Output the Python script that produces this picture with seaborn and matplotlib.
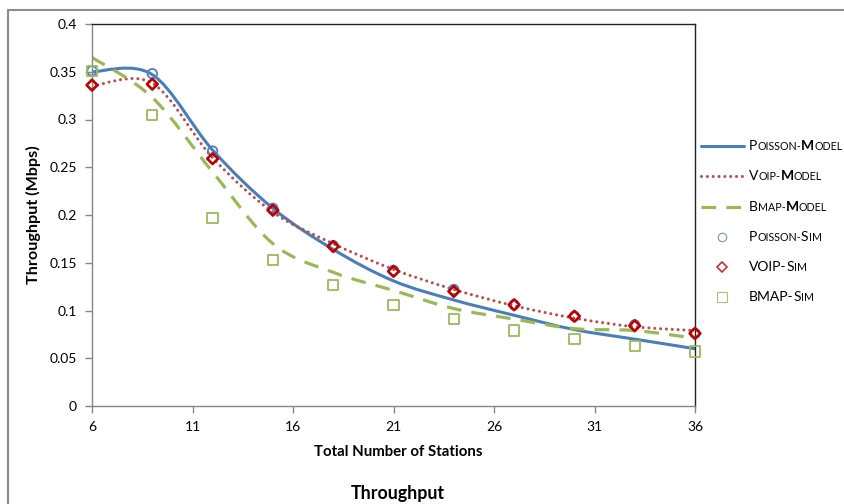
import numpy as np
import matplotlib
matplotlib.use("Agg")
import matplotlib.pyplot as plt
import seaborn as sns
from matplotlib.path import Path
from matplotlib.patches import PathPatch
from matplotlib.lines import Line2D
from matplotlib.offsetbox import TextArea, HPacker, AnnotationBbox

# ---- data -------------------------------------------------------------
stations = [6, 9, 12, 15, 18, 21, 24, 27, 30, 33, 36]

poisson_model = [0.350, 0.347, 0.268, 0.207, 0.164, 0.131, 0.111, 0.095, 0.080, 0.070, 0.060]
voip_model    = [0.335, 0.338, 0.260, 0.203, 0.170, 0.143, 0.122, 0.105, 0.092, 0.083, 0.079]
bmap_model    = [0.365, 0.323, 0.245, 0.170, 0.140, 0.121, 0.102, 0.091, 0.081, 0.079, 0.071]

poisson_sim = [0.351, 0.348, 0.267, 0.207, 0.168, 0.142, 0.122, 0.106, 0.094, 0.085, 0.076]
voip_sim    = [0.336, 0.337, 0.259, 0.205, 0.167, 0.141, 0.120, 0.106, 0.094, 0.084, 0.076]
bmap_sim    = [0.351, 0.305, 0.197, 0.153, 0.127, 0.106, 0.091, 0.079, 0.070, 0.063, 0.057]

x_ticks = [6, 11, 16, 21, 26, 31, 36]
y_ticks = [0, 0.05, 0.1, 0.15, 0.2, 0.25, 0.3, 0.35, 0.4]

BLUE = "#4A7EBB"
RED = "#BE4B48"
GREEN = "#98B954"
RED_MK = "#C00000"
BLUE_MK = "#4F81BD"
GREEN_MK = "#9BBB59"

# ---- style ------------------------------------------------------------
sns.set_theme(style="white")
plt.rcParams["font.family"] = ["Lato", "DejaVu Sans"]

W, H = 844, 504
fig = plt.figure(figsize=(W / 100, H / 100), dpi=100)
fig.patch.set_facecolor("white")

x0, x1, y0, y1 = 92, 695, 24, 406
ax = fig.add_axes([x0 / W, 1 - y1 / H, (x1 - x0) / W, (y1 - y0) / H])
ax.set_facecolor("white")


def smooth_path(xs, ys):
    """Cubic Bezier through the points, spreadsheet-style smoothing."""
    pts = np.column_stack([xs, ys]).astype(float)
    n = len(pts)
    verts = [pts[0]]
    codes = [Path.MOVETO]
    for i in range(n - 1):
        p0 = pts[max(i - 1, 0)]
        p1 = pts[i]
        p2 = pts[i + 1]
        p3 = pts[min(i + 2, n - 1)]
        c1 = p1 + (p2 - p0) / 6.0
        c2 = p2 - (p3 - p1) / 6.0
        verts += [c1, c2, p2]
        codes += [Path.CURVE4] * 3
    return Path(verts, codes)


model_styles = [
    (poisson_model, dict(edgecolor=BLUE, linewidth=2.2, linestyle="-", capstyle="round")),
    (voip_model, dict(edgecolor=RED, linewidth=2.2, linestyle=(0, (0.01, 1.9)), capstyle="round")),
    (bmap_model, dict(edgecolor=GREEN, linewidth=2.3, linestyle=(0, (4.6, 3.2)), capstyle="butt")),
]
for vals, st in model_styles:
    ax.add_patch(PathPatch(smooth_path(stations, vals), fill=False, zorder=2, **st))

# simulation points
sim_styles = [
    (poisson_sim, "o", BLUE_MK, 46, 1.3),
    (voip_sim, "D", RED_MK, 30, 1.9),
    (bmap_sim, "s", GREEN_MK, 55, 1.3),
]
for vals, mk, col, size, lw in sim_styles:
    sns.scatterplot(x=stations, y=vals, marker=mk, s=size, facecolor="none",
                    edgecolor=col, linewidth=lw, ax=ax, zorder=3, clip_on=False)

ax.set_xlim(6, 36)
ax.set_ylim(0, 0.4)
ax.set_xticks(x_ticks)
ax.set_yticks(y_ticks)
ax.set_xticklabels([str(v) for v in x_ticks])
ax.set_yticklabels([f"{v:g}" for v in y_ticks])
ax.tick_params(axis="both", which="major", length=5, width=1, color="#868686",
               labelsize=10, labelcolor="#000000", pad=6, direction="out")
ax.tick_params(axis="x", bottom=True)
ax.tick_params(axis="y", left=True)
ax.set_xlabel("")
ax.set_ylabel("")
ax.grid(False)
for side in ("left", "bottom"):
    ax.spines[side].set_color("#868686")
    ax.spines[side].set_linewidth(1.0)
for side in ("top", "right"):
    ax.spines[side].set_color("#222222")
    ax.spines[side].set_linewidth(1.0)

# axis titles and chart title
fig.text(398 / W, 1 - 452 / H, "Total Number of Stations", ha="center", va="center",
         fontsize=10.8, fontweight="bold", color="black")
fig.text(33 / W, 1 - 215 / H, "Throughput (Mbps)", ha="center", va="center",
         rotation=90, fontsize=11.6, fontweight="bold", color="black")
fig.text(398 / W, 1 - 494 / H, "Throughput", ha="center", va="center",
         fontsize=12.8, fontweight="bold", color="black")

# outer chart frame
fig.add_artist(Line2D([8 / W, 1.0], [1 - 10 / H, 1 - 10 / H], transform=fig.transFigure,
                      color="#8C8C8C", linewidth=1.5))
fig.add_artist(Line2D([8 / W, 8 / W], [0.0, 1 - 10 / H], transform=fig.transFigure,
                      color="#8C8C8C", linewidth=1.5))

# legend with small-caps labels
BIG, SMALL = 10.0, 7.7
legend_rows = [
    ("line", model_styles[0][1], [("P", BIG, "normal"), ("OISSON-", SMALL, "normal"), ("M", BIG, "bold"), ("ODEL", SMALL, "normal")]),
    ("line", model_styles[1][1], [("V", BIG, "normal"), ("OIP-", SMALL, "normal"), ("M", BIG, "bold"), ("ODEL", SMALL, "normal")]),
    ("line", model_styles[2][1], [("B", BIG, "normal"), ("MAP-", SMALL, "normal"), ("M", BIG, "bold"), ("ODEL", SMALL, "normal")]),
    ("mark", sim_styles[0], [("P", BIG, "normal"), ("OISSON-", SMALL, "normal"), ("S", BIG, "normal"), ("IM", SMALL, "normal")]),
    ("mark", sim_styles[1], [("VOIP-", BIG, "normal"), ("S", BIG, "normal"), ("IM", SMALL, "normal")]),
    ("mark", sim_styles[2], [("BMAP-", BIG, "normal"), ("S", BIG, "normal"), ("IM", SMALL, "normal")]),
]
row_y = [146, 176, 207, 237, 267, 297]
for (kind, st, segs), ry in zip(legend_rows, row_y):
    yf = 1 - ry / H
    if kind == "line":
        fig.add_artist(Line2D([701 / W, 744 / W], [yf, yf], transform=fig.transFigure,
                              color=st["edgecolor"], linewidth=st["linewidth"],
                              linestyle=st["linestyle"], solid_capstyle=st["capstyle"],
                              dash_capstyle=st["capstyle"]))
    else:
        _, mk, col, size, lw = st
        fig.add_artist(Line2D([722 / W], [yf], transform=fig.transFigure, marker=mk,
                              markersize=np.sqrt(size) * 0.9, markerfacecolor="none",
                              markeredgecolor=col, markeredgewidth=lw * 0.6, linestyle="none",
                              alpha=0.85))
    parts = [TextArea(t, textprops=dict(fontsize=fs, fontweight=fw, color="black"))
             for t, fs, fw in segs]
    box = HPacker(children=parts, align="baseline", pad=0, sep=0)
    ab = AnnotationBbox(box, (749, H - ry), xycoords="figure pixels",
                        box_alignment=(0, 0.5), frameon=False, pad=0)
    fig.add_artist(ab)

fig.savefig("out.png", dpi=100, facecolor="white")
